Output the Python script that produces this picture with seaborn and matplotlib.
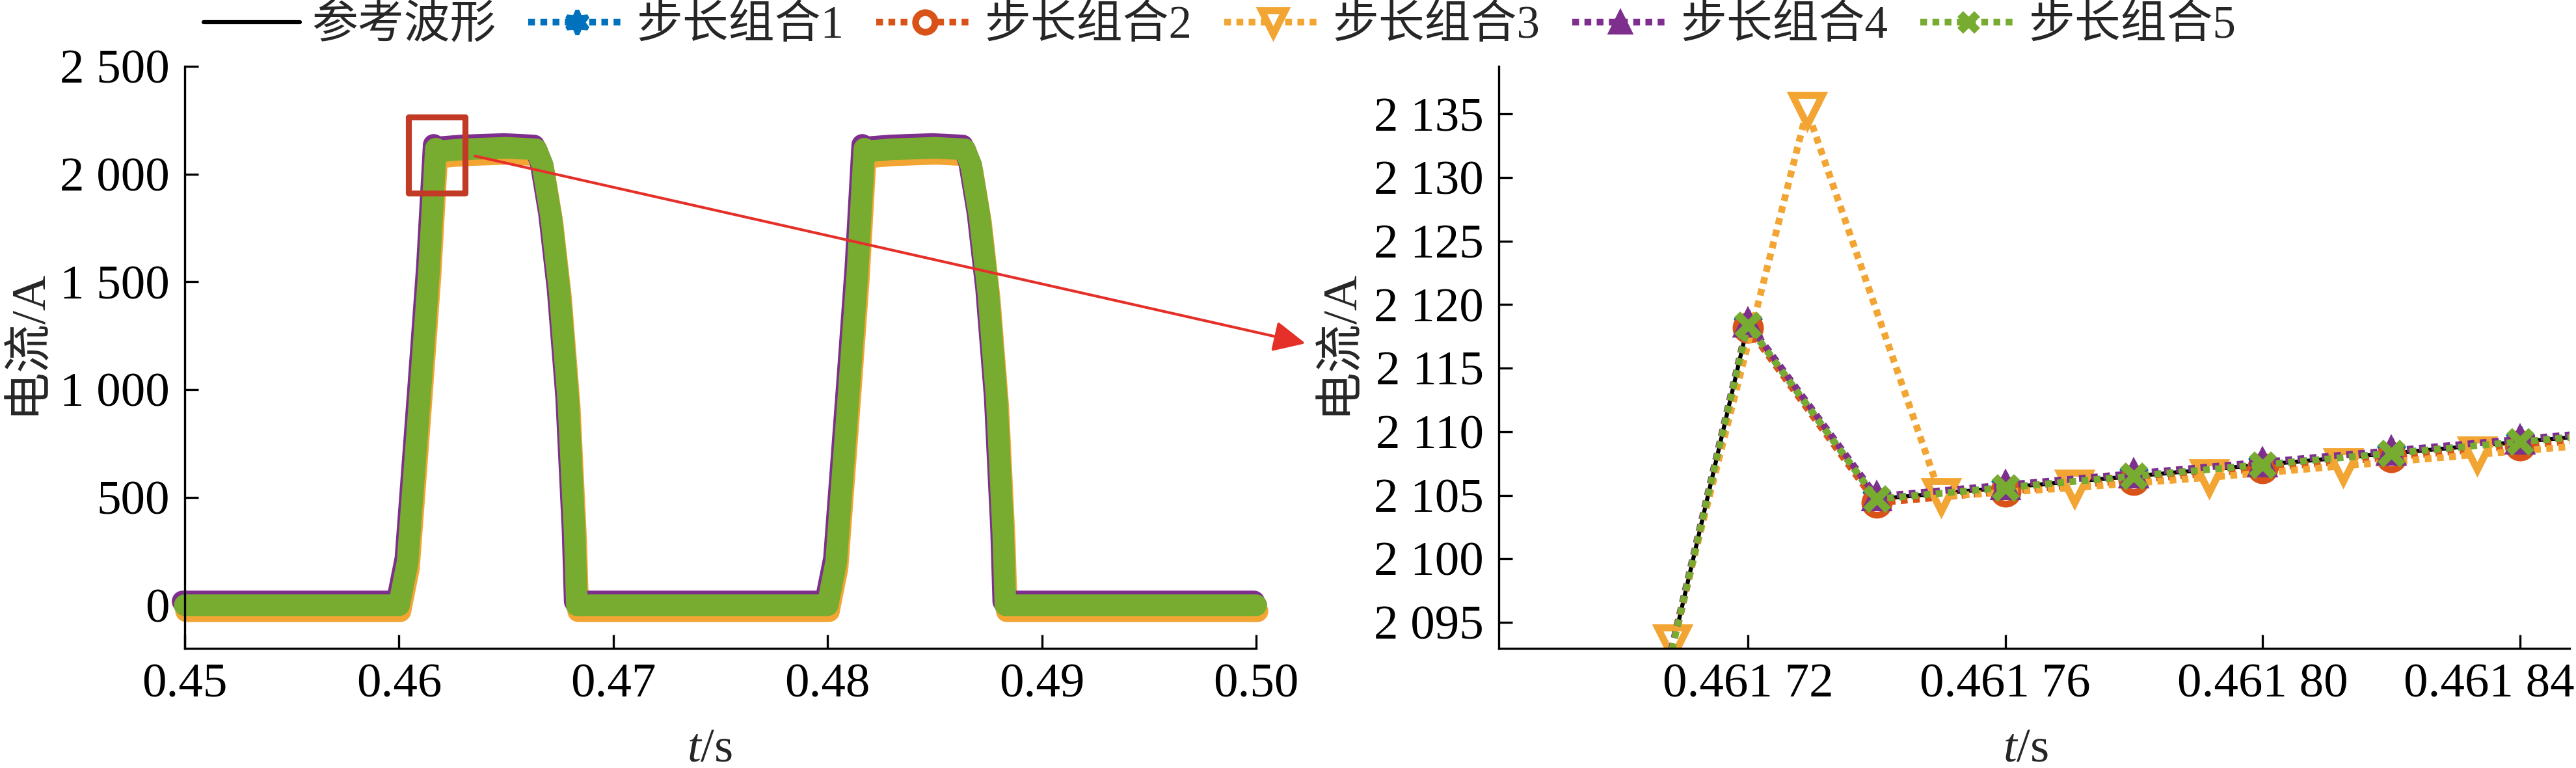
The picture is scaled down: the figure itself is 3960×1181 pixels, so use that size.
import numpy as np
import matplotlib
matplotlib.use('Agg')
import matplotlib.pyplot as plt
import matplotlib.transforms as mtransforms
from matplotlib.patches import Rectangle
from matplotlib.ticker import FuncFormatter, MultipleLocator
import seaborn as sns

sns.set_theme(style='ticks')
plt.rcParams['font.family'] = ['Liberation Serif', 'Noto Sans CJK SC']
plt.rcParams['mathtext.fontset'] = 'custom'
plt.rcParams['mathtext.rm'] = 'Liberation Serif'
plt.rcParams['mathtext.it'] = 'Liberation Serif:italic'
plt.rcParams['axes.unicode_minus'] = False

# --- data ---------------------------------------------------------------------
# full view: the five step-size combinations and the reference overlap here
t_wave = [0.4500, 0.4600, 0.4604, 0.4610, 0.4614, 0.46172, 0.46174, 0.4630,
          0.4650, 0.4664, 0.4667, 0.4671, 0.4675, 0.4679, 0.4682, 0.4683,
          0.4800, 0.4804, 0.4810, 0.4814, 0.48172, 0.48174, 0.4830,
          0.4850, 0.4864, 0.4867, 0.4871, 0.4875, 0.4879, 0.4882, 0.4883, 0.5000]
i_wave = [0, 0, 200, 1000, 1550, 2118, 2105, 2115,
          2122, 2115, 2040, 1800, 1450, 950, 330, 0,
          0, 200, 1000, 1550, 2118, 2105, 2115,
          2122, 2115, 2040, 1800, 1450, 950, 330, 0, 0]

# zoomed view, 20 us step
t_zoom = [0.46170, 0.46172, 0.46174, 0.46176, 0.46178, 0.46180, 0.46182, 0.46184, 0.46186]
i_ref = [2075.0, 2118.4, 2104.7, 2105.6, 2106.5, 2107.4, 2108.3, 2109.2, 2110.1]
i_step1 = [2075.0, 2118.4, 2104.7, 2105.6, 2106.5, 2107.4, 2108.3, 2109.2, 2110.1]
i_step2 = [2075.0, 2118.2, 2104.4, 2105.3, 2106.2, 2107.1, 2108.0, 2108.9, 2109.8]
i_step4 = [2075.2, 2118.6, 2104.9, 2105.8, 2106.7, 2107.6, 2108.5, 2109.4, 2110.3]
i_step5 = [2075.0, 2118.4, 2104.7, 2105.6, 2106.5, 2107.4, 2108.3, 2109.2, 2110.1]
# zoomed view, combination 3 uses a longer step
t_zoom3 = [0.4616875, 0.4617083, 0.4617292, 0.4617500, 0.4617708,
           0.4617917, 0.4618125, 0.4618333, 0.4618542]
i_step3 = [2050.0, 2093.4, 2135.3, 2104.9, 2105.6, 2106.4, 2107.3, 2108.2, 2109.1]

legend_labels = ['参考波形', '步长组合1', '步长组合2', '步长组合3', '步长组合4', '步长组合5']
colors = ['black', '#0072BD', '#D95319', '#F2A533', '#7E2F8E', '#77AC30']

# --- figure -------------------------------------------------------------------
fig = plt.figure(figsize=(13.2, 3.9367), dpi=300)
ax1 = fig.add_axes([0.07172, 0.1558, 0.41591, 0.75783])
ax2 = fig.add_axes([0.58182, 0.1558, 0.41566, 0.75783])

# left panel: thick bands, purple nudged up, orange nudged down
off_purple = mtransforms.offset_copy(ax1.transData, fig=fig, x=-0.8, y=1.4, units='points')
off_orange = mtransforms.offset_copy(ax1.transData, fig=fig, x=0.5, y=-2.2, units='points')
band = dict(lw=8, solid_joinstyle='round', solid_capstyle='round', clip_on=False)
sns.lineplot(x=t_wave, y=i_wave, ax=ax1, color=colors[0], lw=1.5, sort=False)
sns.lineplot(x=t_wave, y=i_wave, ax=ax1, color=colors[1], sort=False, **band)
sns.lineplot(x=t_wave, y=i_wave, ax=ax1, color=colors[2], sort=False, **band)
sns.lineplot(x=t_wave, y=i_wave, ax=ax1, color=colors[3], sort=False, transform=off_orange, **band)
sns.lineplot(x=t_wave, y=i_wave, ax=ax1, color=colors[4], sort=False, transform=off_purple, **band)
sns.lineplot(x=t_wave, y=i_wave, ax=ax1, color=colors[5], sort=False, **band)

ax1.set_xlim(0.45, 0.50)
ax1.set_ylim(-200, 2500)
ax1.xaxis.set_major_locator(MultipleLocator(0.01))
ax1.yaxis.set_major_locator(MultipleLocator(500))
ax1.xaxis.set_major_formatter(FuncFormatter(lambda v, p: f'{v:.2f}'))

# zoom box and arrow
ax1.add_patch(Rectangle((0.46044, 1913), 0.00264, 351, fill=False,
                        edgecolor='#C23A26', lw=2.2, joinstyle='round', zorder=10))
ax1.annotate('', xy=(0.5068, 0.5529), xycoords='figure fraction',
             xytext=(0.46354, 2084), textcoords='data',
             arrowprops=dict(arrowstyle='-|>,head_length=0.42,head_width=0.2',
                             color='#E5302A', lw=1.0, mutation_scale=24,
                             shrinkA=0, shrinkB=0),
             annotation_clip=False, zorder=11)

# right panel
dots = (0, (1, 0.8))
sns.lineplot(x=t_zoom, y=i_ref, ax=ax2, color=colors[0], lw=1.5)
sns.lineplot(x=t_zoom, y=i_step1, ax=ax2, color=colors[1], lw=2.5, linestyle=dots,
             marker=(6, 1, 0), markersize=11, markerfacecolor=colors[1],
             markeredgecolor=colors[1], markeredgewidth=1.5)
sns.lineplot(x=t_zoom, y=i_step2, ax=ax2, color=colors[2], lw=2.5, linestyle=dots,
             marker='o', markersize=9, markerfacecolor='white',
             markeredgecolor=colors[2], markeredgewidth=2.5)
sns.lineplot(x=t_zoom3, y=i_step3, ax=ax2, color=colors[3], lw=2.5, linestyle=dots,
             marker='v', markersize=11, markerfacecolor='white',
             markeredgecolor=colors[3], markeredgewidth=2.6)
sns.lineplot(x=t_zoom, y=i_step4, ax=ax2, color=colors[4], lw=2.5, linestyle=dots,
             marker='^', markersize=10, markerfacecolor=colors[4],
             markeredgecolor=colors[4], markeredgewidth=1.0)
sns.lineplot(x=t_zoom, y=i_step5, ax=ax2, color=colors[5], lw=2.5, linestyle=dots,
             marker='x', markersize=8, markerfacecolor=colors[5],
             markeredgecolor=colors[5], markeredgewidth=3.0)

ax2.set_xlim(0.4616813, 0.4618477)
ax2.set_ylim(2092.95, 2138.75)
ax2.set_xticks([0.46172, 0.46176, 0.46180, 0.46184])
ax2.yaxis.set_major_locator(MultipleLocator(5))


def fmt_zoom_x(v, pos):
    s = f'{v:.5f}'
    return s[:5] + ' ' + s[5:]


ax2.xaxis.set_major_formatter(FuncFormatter(fmt_zoom_x))

y_fmt = FuncFormatter(lambda v, p: f'{int(round(v)):,}'.replace(',', ' '))
for ax in (ax1, ax2):
    ax.yaxis.set_major_formatter(y_fmt)
    ax.spines[['top', 'right']].set_visible(False)
    for side in ('left', 'bottom'):
        ax.spines[side].set_linewidth(0.8)
        ax.spines[side].set_color('black')
    ax.tick_params(direction='in', length=5, width=0.8, labelsize=18, pad=5.5,
                   colors='black')
    ax.set_ylabel('电流/A', fontsize=18)
    ax.set_xlabel('$t$/s', fontsize=18)
    ax.grid(False)

ax1.yaxis.set_label_coords(-0.126, 0.527)
ax2.yaxis.set_label_coords(-0.128, 0.527)
ax1.xaxis.set_label_coords(0.49, -0.136)
ax2.xaxis.set_label_coords(0.492, -0.136)

# last zoomed tick label is pulled in so it stays inside the figure
last = ax2.xaxis.get_major_ticks()[-1].label1
last.set_transform(last.get_transform()
                   + mtransforms.ScaledTranslation(-48 / 300, 0, fig.dpi_scale_trans))

fig.legend(ax2.get_lines()[:6], legend_labels, loc='center',
           bbox_to_anchor=(0.4735, 0.966), ncol=6, frameon=False, fontsize=17,
           handlelength=2.1, handletextpad=0.25, columnspacing=0.7,
           markerscale=0.8, borderaxespad=0)

fig.savefig('out.png', dpi=300)
